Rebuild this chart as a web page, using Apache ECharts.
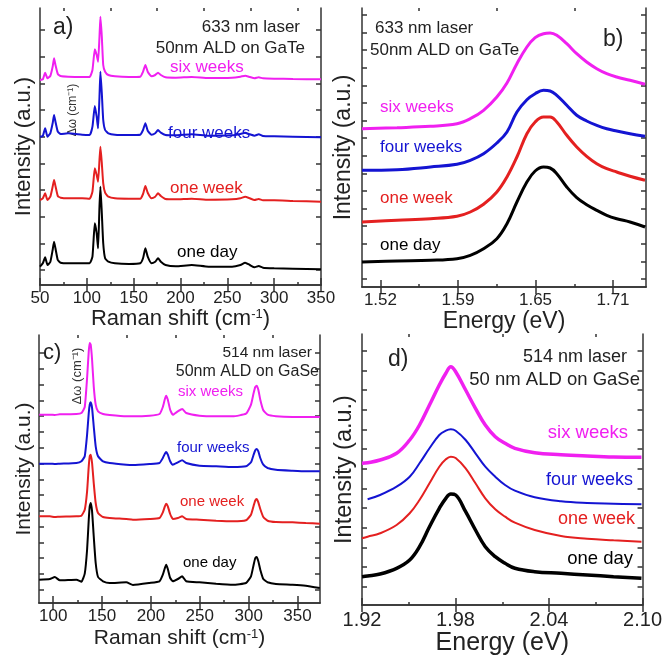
<!DOCTYPE html>
<html>
<head>
<meta charset="utf-8">
<script src="https://cdn.jsdelivr.net/npm/echarts@6/dist/echarts.min.js"></script>
<style>
  html, body { margin: 0; padding: 0; background: #fff; }
  #chart { width: 665px; height: 658px; }
</style>
</head>
<body>
<div id="chart"></div>
<script>
// ---- panel a: Raman, 633 nm, GaTe ----
const aShift = [50, 53, 55.5, 58, 61, 63.5, 65, 66.5, 69, 72, 80, 95, 103, 106, 108.5, 110.5, 112, 113.5, 114.5, 116,
  117.5, 119.5, 123, 130, 145, 157, 160, 162.5, 165, 169, 173, 176, 179, 184, 195, 212, 230, 255, 264, 269,
  274, 279, 283.5, 288, 300, 320, 350];
const aOneDay = [18.3, 21.7, 27.7, 20, 23, 35, 43.3, 36.7, 25, 22.3, 21.7, 21.7, 21.7, 28.3, 61.7, 51.7, 36.7, 78.3, 98.3, 71.7,
  41.7, 26.7, 23.3, 21.7, 21, 21.7, 26.7, 36.7, 28.3, 21.7, 23.3, 26.7, 23.3, 20, 18.7, 20, 18.3, 18.3, 20, 22.3,
  20, 17.7, 19, 17.3, 16.7, 16.3, 15.7];
const aOneWeek = [85, 86.7, 91.7, 85, 88.3, 98.3, 105, 99, 89, 87.3, 86.7, 86.7, 86.3, 93.3, 116.7, 110, 103.3, 125, 138.3, 121.7,
  101.7, 92.3, 88.3, 86.7, 86.3, 86.3, 91, 99, 92.3, 86.7, 88.3, 91.7, 89, 86, 85.7, 86.3, 85.3, 85.7, 86.7, 88.3,
  86.7, 85, 86, 84.7, 84.7, 84, 83.3];
const aFourWeeks = [148.3, 149, 156.7, 148.3, 151.7, 161.7, 170, 163.3, 153.3, 151, 151.7, 150.3, 150, 158.3, 179, 168.3, 156.7, 188.3, 213.3, 191.7,
  165, 155, 151.7, 150.3, 150, 150.3, 155, 161.7, 154.3, 150.3, 151.7, 155, 152.3, 150, 149.7, 150.7, 149.3, 149.7, 151, 152.3,
  150.7, 149.3, 150.7, 149, 148.7, 148.3, 147.7];
const aSixWeeks = [205, 205.7, 212.3, 206.7, 209, 218.3, 226.7, 220, 211, 209, 208.3, 208, 208, 215, 235.7, 230, 223.3, 248.3, 268.3, 248.3,
  220, 213.3, 210, 208.7, 208, 208.3, 213.3, 220, 213.3, 208.7, 210, 212.3, 210, 207.7, 207.3, 208, 207, 207.3, 208.3, 209.3,
  208, 206.7, 207.7, 206.7, 206.3, 206, 205.7];
const aTicksMajor = [50, 100, 150, 200, 250, 300, 350];
const aTicksMinor = [75, 125, 175, 225, 275, 325];
const aTicksY = [15, 41.7, 68.3, 95, 121.7, 148.3, 175, 201.7, 228.3, 255];

// ---- panel b: PL, 633 nm, GaTe ----
const bEnergy = [1.509, 1.5375, 1.5646, 1.5862, 1.597, 1.6078, 1.6186, 1.6268, 1.6349, 1.643, 1.6497,
  1.6565, 1.6619, 1.6673, 1.6754, 1.6835, 1.6916, 1.6998, 1.7079, 1.716, 1.7268, 1.739];
const bOneDay = [25, 26, 26.7, 28.3, 31.7, 38.3, 48.3, 63.3, 85, 105, 116, 120, 119, 113.3, 100, 89.3, 82.3, 76.7, 71.7, 68.3, 65, 60];
const bOneWeek = [65, 66.7, 68.3, 70.7, 75, 82.7, 95, 110, 130, 153.3, 165, 170, 170, 165, 151.7, 140, 130.7, 123.3, 118.3, 115, 110.7, 106.7];
const bFourWeeks = [116.7, 117.3, 120, 122.7, 126.7, 133.3, 144, 155, 175, 187.3, 193.3, 196.7, 196, 191.7, 181.7, 171.7, 166, 161.7, 158.3, 156, 153.3, 150.7];
const bSixWeeks = [158.3, 159.3, 160.7, 163.3, 168.3, 176.7, 190, 204, 223.3, 240, 249.3, 253.3, 254, 251.7, 243.3, 233.3, 225, 218.3, 213.3, 210, 206.7, 202.7];
const bTicksMajor = [1.524, 1.587, 1.650, 1.713];
const bTicksMinor = [1.5555, 1.6185, 1.6815];
const bTicksY = [8, 25.6, 43.2, 60.8, 78.4, 96, 113.6, 131.2, 148.8, 166.4, 184, 201.6, 219.2, 236.8, 254.4, 272];

// ---- panel c: Raman, 514 nm, GaSe ----
const cShift = [85.7, 96.6, 101.7, 106.8, 123.8, 128.9, 132.3, 134.7, 136.4, 137.4, 138.4, 139.8, 141.5, 143.5, 145.9, 151,
  157.8, 174.8, 181.6, 198.6, 208.8, 212.2, 214.3, 215.6, 217.3, 219.7, 222.4, 227.6, 232, 236.1, 249.7, 266.7,
  283.7, 297.3, 302.4, 305.1, 306.8, 308.2, 309.9, 311.9, 315, 319.4, 327.9, 344.9, 358.5, 372.8];
const cOneDay = [23.3, 24, 26, 22.7, 23.3, 21.3, 29.3, 53.3, 83.3, 96.7, 100, 91.7, 66.7, 40, 26, 21.7,
  20, 20.7, 18, 20, 21.7, 28.3, 35, 38.3, 34, 25, 21.7, 24, 26.7, 21.7, 20.7, 19.3,
  18.3, 20, 26.7, 38.3, 45, 46, 41.7, 33.3, 24, 20.7, 19, 18.3, 17.3, 15];
const cOneWeek = [86.7, 86.7, 86, 86.3, 86.7, 87.3, 93.3, 111.7, 136.7, 146.7, 148.3, 140, 120, 100, 90, 86,
  85, 84, 83.3, 84, 85, 90.7, 96.7, 99.3, 96.7, 89, 84, 85, 86.7, 84, 83.3, 82.3,
  81.7, 82.7, 88.3, 97.3, 102.7, 104, 100.7, 94, 86, 82.3, 81, 80.7, 80, 79.3];
const cFourWeeks = [139.3, 139.3, 139, 139.3, 140, 141.7, 146.7, 168.3, 190, 198.3, 200.7, 195, 176.7, 156.7, 146.7, 141.7,
  140, 138.3, 138, 139, 140, 145, 149.3, 151, 148.3, 141.7, 138.3, 140.7, 142.7, 140, 137.3, 136.7,
  136, 136.7, 140.7, 148.3, 152.7, 154, 151.7, 145, 138.3, 135, 133.3, 132.3, 131.7, 131.7];
const cSixWeeks = [188.3, 188.3, 188, 188.7, 189, 190, 196, 225, 251.7, 260, 258.3, 243.3, 216.7, 198.3, 191.7, 189,
  188, 186.7, 186.7, 187.3, 189, 196, 204, 207.3, 203.3, 193.3, 188.3, 191.7, 194, 190, 187.3, 186.7,
  186.7, 189.3, 198.3, 210, 216, 217.3, 213.3, 203.3, 192.7, 188.3, 186.7, 186, 186, 186];
const cTicksMajor = [100, 150, 200, 250, 300, 350];
const cTicksMinor = [125, 175, 225, 275, 325];
const cTicksY = [13.3, 29.1, 44.9, 60.6, 76.4, 92.2, 108, 123.7, 139.5, 155.3, 171, 186.8, 202.6, 218.4, 234.1, 249.9];

// ---- panel d: PL, 514 nm, GaSe ----
const dEnergy = [1.92, 1.9236, 1.9316, 1.9422, 1.9506, 1.9569, 1.9633, 1.9696, 1.9738, 1.977, 1.9801,
  1.9865, 1.9928, 1.9991, 2.0055, 2.0118, 2.0181, 2.0308, 2.0477, 2.0645, 2.0814, 2.0993];
const dOneDay = [28.3, 29, 31, 36.7, 45, 58.3, 78.3, 96.7, 106.7, 111, 110, 93.3, 75, 58.3, 48.3, 41.7, 36.7, 33.3, 31.7, 30, 28.3, 26.7];
const dOneWeek = [66.7, 68.3, 71.7, 80, 91.7, 105, 121.7, 138.3, 145.7, 148.3, 147, 136.7, 121.7, 106.7, 95.7, 88.3, 82.3, 75, 69, 66.3, 64.7, 63.3];
const dFourWeeks = [null, 105.7, 110, 118.3, 128.3, 141.7, 156.7, 170, 174.3, 175.7, 174.3, 165, 151.7, 138.3, 128.3, 120, 114.3, 107.7, 103.7, 102, 101.3, 100.7];
const dSixWeeks = [141.7, 142.3, 145, 151.7, 165, 180, 200, 220, 231.7, 238.3, 233.3, 215, 196.7, 180, 168.3, 161.7, 156.7, 152.3, 150.3, 149, 148, 147.7];
const dTicksMajor = [1.92, 1.98, 2.04, 2.10];
const dTicksMinor = [1.95, 2.01, 2.07];
const dTicksY = [18.3, 38, 57.6, 77.3, 96.9, 116.6, 136.2, 155.9, 175.5, 195.2, 214.8, 234.5, 254.1];

const FONT = '"Liberation Sans", Arial, sans-serif';
const INK = '#222';
const MAG = '#f020f0', BLUE = '#1414d2', RED = '#e42020', BLACK = '#000';

const axLine = { show: true, lineStyle: { color: '#333', width: 1.5 } };
const tickStyle = { color: '#333', width: 1.5 };

function xAxes(gi, min, max, majors, minors, digits, name, nameGap, labelSize, nameSize) {
  const base = { gridIndex: gi, type: 'value', min: min, max: max, splitLine: { show: false } };
  return [
    Object.assign({}, base, {
      position: 'bottom', name: name, nameLocation: 'middle', nameGap: nameGap,
      nameTextStyle: { fontSize: nameSize, color: INK, fontFamily: FONT,
        rich: { sup: { fontSize: Math.round(nameSize * 0.6), color: INK, fontFamily: FONT, verticalAlign: 'top' } } },
      axisLine: axLine,
      axisTick: { inside: true, length: 7, customValues: majors, lineStyle: tickStyle },
      axisLabel: { customValues: majors, formatter: v => v.toFixed(digits), fontSize: labelSize, color: INK, fontFamily: FONT, margin: 5 }
    }),
    Object.assign({}, base, {
      position: 'top', axisLine: axLine,
      axisTick: { inside: true, length: 7, customValues: majors, lineStyle: tickStyle },
      axisLabel: { show: false }
    }),
    Object.assign({}, base, {
      position: 'bottom', axisLine: { show: false },
      axisTick: { inside: true, length: 3, customValues: minors, lineStyle: tickStyle },
      axisLabel: { show: false }
    }),
    Object.assign({}, base, {
      position: 'top', axisLine: { show: false },
      axisTick: { inside: true, length: 3, customValues: minors, lineStyle: tickStyle },
      axisLabel: { show: false }
    })
  ];
}

function yAxes(gi, max, ticks, nameGap, nameSize) {
  const base = { gridIndex: gi, type: 'value', min: 0, max: max, splitLine: { show: false },
    axisLine: axLine, axisLabel: { show: false },
    axisTick: { inside: true, length: 5, customValues: ticks, lineStyle: tickStyle } };
  return [
    Object.assign({}, base, { position: 'left', name: 'Intensity (a.u.)', nameLocation: 'middle', nameGap: nameGap,
      nameTextStyle: { fontSize: nameSize, color: INK, fontFamily: FONT } }),
    Object.assign({}, base, { position: 'right' })
  ];
}

function curve(gi, xs, ys, color, width, smooth) {
  return {
    type: 'line', xAxisIndex: gi * 4, yAxisIndex: gi * 2,
    data: xs.map((x, i) => [x, ys[i]]),
    showSymbol: false, smooth: smooth, connectNulls: false, silent: true,
    lineStyle: { color: color, width: width }, itemStyle: { color: color }
  };
}

function txt(x, y, text, color, size, align, rotation) {
  return { type: 'text', x: x, y: y, rotation: rotation || 0, silent: true,
    style: { text: text, fill: color, fontSize: size, fontFamily: FONT, align: align || 'left', verticalAlign: 'middle' } };
}

const chart = echarts.init(document.getElementById('chart'), null, { renderer: 'canvas' });
chart.setOption({
  backgroundColor: '#fff',
  animation: false,
  grid: [
    { left: 40, top: 8, width: 281, height: 277 },
    { left: 362, top: 8, width: 284, height: 279 },
    { left: 39, top: 335, width: 281, height: 268 },
    { left: 362, top: 334, width: 284, height: 271 }
  ],
  xAxis: [].concat(
    xAxes(0, 50, 350, aTicksMajor, aTicksMinor, 0, 'Raman shift (cm{sup|-1})', 21, 17, 22),
    xAxes(1, 1.509, 1.7398, bTicksMajor, bTicksMinor, 2, 'Energy (eV)', 17, 17, 23),
    xAxes(2, 85.5, 373, cTicksMajor, cTicksMinor, 0, 'Raman shift (cm{sup|-1})', 25, 17, 21),
    xAxes(3, 1.92, 2.10, dTicksMajor, dTicksMinor, 2, 'Energy (eV)', 25, 20, 25)
  ),
  yAxis: [].concat(
    yAxes(0, 277, aTicksY, 5, 22),
    yAxes(1, 279, bTicksY, 7, 23),
    yAxes(2, 268, cTicksY, 4, 21),
    yAxes(3, 271, dTicksY, 5, 23.5)
  ),
  series: [
    curve(0, aShift, aOneDay, BLACK, 2, 0.15),
    curve(0, aShift, aOneWeek, RED, 2, 0.15),
    curve(0, aShift, aFourWeeks, BLUE, 2, 0.15),
    curve(0, aShift, aSixWeeks, MAG, 2, 0.15),
    curve(1, bEnergy, bOneDay, BLACK, 3, 0.4),
    curve(1, bEnergy, bOneWeek, RED, 3, 0.4),
    curve(1, bEnergy, bFourWeeks, BLUE, 3, 0.4),
    curve(1, bEnergy, bSixWeeks, MAG, 3, 0.4),
    curve(2, cShift, cOneDay, BLACK, 2, 0.15),
    curve(2, cShift, cOneWeek, RED, 2, 0.15),
    curve(2, cShift, cFourWeeks, BLUE, 2, 0.15),
    curve(2, cShift, cSixWeeks, MAG, 2, 0.15),
    curve(3, dEnergy, dOneDay, BLACK, 3.5, 0.4),
    curve(3, dEnergy, dOneWeek, RED, 2, 0.4),
    curve(3, dEnergy, dFourWeeks, BLUE, 2, 0.4),
    curve(3, dEnergy, dSixWeeks, MAG, 3.5, 0.4)
  ],
  graphic: [
    // panel a
    txt(53, 28, 'a)', INK, 23),
    txt(300, 27, '633 nm laser', INK, 17, 'right'),
    txt(305, 48, '50nm ALD on GaTe', INK, 17, 'right'),
    txt(170, 67, 'six weeks', MAG, 17),
    txt(168, 133, 'four weeks', BLUE, 17),
    txt(170, 188, 'one week', RED, 17),
    txt(177, 252, 'one day', BLACK, 17),
    txt(73, 110, 'Δω (cm⁻¹)', '#333', 12, 'center', Math.PI / 2),
    // panel b
    txt(375, 28, '633 nm laser', INK, 17),
    txt(370, 50, '50nm ALD on GaTe', INK, 17),
    txt(603, 40, 'b)', INK, 23),
    txt(380, 107, 'six weeks', MAG, 17),
    txt(380, 147, 'four weeks', BLUE, 17),
    txt(380, 198, 'one week', RED, 17),
    txt(380, 245, 'one day', BLACK, 17),
    // panel c
    txt(43, 353, 'c)', INK, 22),
    txt(77, 376, 'Δω (cm⁻¹)', '#333', 13, 'center', Math.PI / 2),
    txt(312, 353, '514 nm laser', INK, 15.5, 'right'),
    txt(319, 372, '50nm ALD on GaSe', INK, 16, 'right'),
    txt(178, 392, 'six weeks', MAG, 15),
    txt(177, 448, 'four weeks', BLUE, 15),
    txt(180, 502, 'one week', RED, 15),
    txt(183, 563, 'one day', BLACK, 15),
    // panel d
    txt(388, 360, 'd)', INK, 23),
    txt(627, 357, '514 nm laser', INK, 18, 'right'),
    txt(640, 380, '50 nm ALD on GaSe', INK, 18.5, 'right'),
    txt(628, 433, 'six weeks', MAG, 18.5, 'right'),
    txt(633, 480, 'four weeks', BLUE, 18, 'right'),
    txt(635, 519, 'one week', RED, 18, 'right'),
    txt(633, 559, 'one day', BLACK, 18.5, 'right')
  ]
});
</script>
</body>
</html>
